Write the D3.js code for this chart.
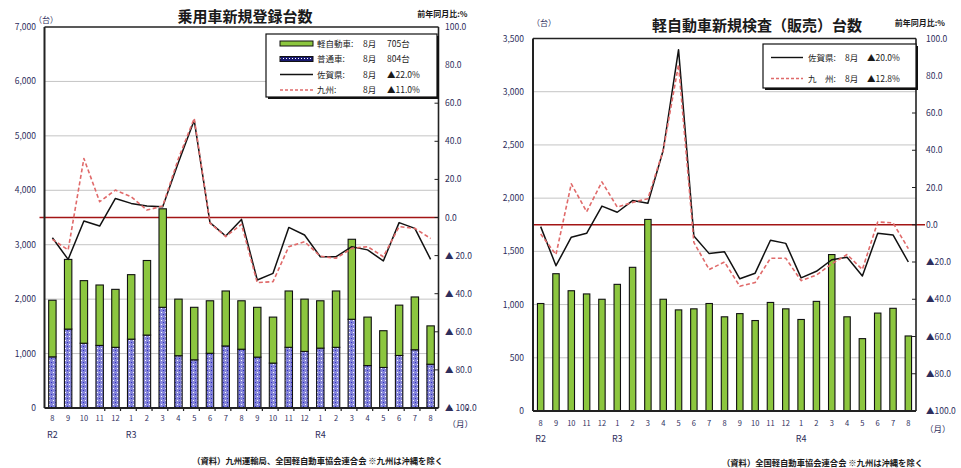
<!DOCTYPE html>
<html>
<head>
<meta charset="utf-8">
<script src="https://cdn.jsdelivr.net/npm/d3@7"></script>
<style>
  body { margin: 0; background: #fff; }
  svg { display: block; }
  text { font-family: "Noto Sans CJK JP", "Noto Sans", sans-serif; }
</style>
</head>
<body>
<svg id="chart" width="961" height="468"></svg>
<script>
// Months from R2.8 through R4.8
const months = ["8","9","10","11","12","1","2","3","4","5","6","7","8","9","10","11","12","1","2","3","4","5","6","7","8"];
const eras   = ["R2","","","","","R3","","","","","","","","","","","","R4","","","","","","",""];

// 乗用車新規登録台数 (Saga): stacked bars, units
const keiRegistered = [1040,1280,1150,1110,1065,1185,1370,1810,1040,965,965,1010,890,915,845,1035,960,870,1035,1470,890,675,925,970,705];
const futsuRegistered = [940,1450,1190,1150,1115,1265,1340,1850,960,885,1005,1140,1080,935,825,1115,1040,1100,1115,1630,780,745,965,1070,804];
// year-on-year change, %
const sagaPassengerYoY   = [-10.6,-22,-1.8,-4.5,10,7.4,6,5.7,29,51,-2.7,-9.7,-1,-32.8,-29.3,-5.2,-9.2,-20.6,-20.6,-15.3,-17,-22.8,-2.7,-5.7,-22.0];
const kyushuPassengerYoY = [-11.5,-17,31,8.3,14.4,10.9,3.9,6,31,52,-3,-10,-3.6,-34.2,-33.7,-15.3,-12.7,-20.3,-21.4,-16.2,-15.3,-20.6,-4.8,-5.7,-11.0];

// 軽自動車新規検査(販売)台数 (Saga), units
const keiInspected = [1010,1290,1130,1100,1050,1190,1350,1800,1050,950,960,1010,885,915,850,1020,960,860,1030,1470,885,680,920,965,705];
const sagaKeiYoY   = [-1,-22,-6.7,-4.6,10,6.7,13,11.5,40,94,-6,-15.5,-14.5,-29,-26,-8.3,-10,-28.5,-25,-18.8,-17.5,-27.5,-4.6,-5.5,-20.0];
const kyushuKeiYoY = [-5,-16,22,7,23,9.5,12,14,40,86,-9.5,-24,-20,-33,-31,-18,-18,-30,-27,-21,-16,-24,1.5,1,-12.8];

const leftLegend  = [
  ["軽自動車:", "8月", "705台"],
  ["普通車:",   "8月", "804台"],
  ["佐賀県:",   "8月", "▲22.0%"],
  ["九州:",     "8月", "▲11.0%"]
];
const rightLegend = [
  ["佐賀県:", "8月", "▲20.0%"],
  ["九　州:", "8月", "▲12.8%"]
];

const svg = d3.select("#chart");
const AXIS_TEXT = "#2e2e5c";
const GREEN = "#8cc63f";
const RED_DASH = "#e06a6a";

// dotted fill for 普通車
const defs = svg.append("defs");
const pat = defs.append("pattern").attr("id", "dots").attr("width", 4).attr("height", 4)
  .attr("patternUnits", "userSpaceOnUse");
pat.append("rect").attr("width", 4).attr("height", 4).attr("fill", "#8585d9");
pat.append("rect").attr("x", 1).attr("y", 0).attr("width", 1).attr("height", 1).attr("fill", "#ffffff");
pat.append("rect").attr("x", 3).attr("y", 2).attr("width", 1).attr("height", 1).attr("fill", "#2b2bc8");
const pat2 = defs.append("pattern").attr("id", "dotsDark").attr("width", 3).attr("height", 3)
  .attr("patternUnits", "userSpaceOnUse");
pat2.append("rect").attr("width", 3).attr("height", 3).attr("fill", "#1a1a70");
pat2.append("rect").attr("x", 1).attr("y", 1).attr("width", 1).attr("height", 1).attr("fill", "#ffffff");

function pctLabel(v, gap) {
  if (v < 0) return "▲" + gap + Math.abs(v).toFixed(1);
  return v.toFixed(1);
}

function drawChart(cfg) {
  const g = svg.append("g");
  const n = months.length;
  const x = d3.scaleBand().domain(d3.range(n)).range([cfg.x0, cfg.x1])
    .paddingInner(cfg.pad).paddingOuter(cfg.pad / 2);
  const step = x.step();
  const cx = i => x(i) + x.bandwidth() / 2;
  const yL = d3.scaleLinear().domain([0, cfg.leftMax]).range([cfg.yBottom, cfg.yTop]);
  const yR = d3.scaleLinear().domain([-100, 100]).range([cfg.yBottom, cfg.yTop]);

  // gridlines
  const leftTicks = d3.range(0, cfg.leftMax + 1, cfg.leftStep);
  g.selectAll(".grid").data(leftTicks.filter(t => t > 0 && t < cfg.leftMax)).join("line")
    .attr("x1", cfg.x0).attr("x2", cfg.x1)
    .attr("y1", d => yL(d)).attr("y2", d => yL(d))
    .attr("stroke", "#c4c4c4").attr("stroke-width", 1);

  // zero reference on the % axis
  g.append("line").attr("x1", cfg.x0 - cfg.zeroOverL).attr("x2", cfg.x1 + cfg.zeroOverR)
    .attr("y1", yR(0)).attr("y2", yR(0))
    .attr("stroke", "#a31515").attr("stroke-width", 1.6);

  // bars
  cfg.stacks.forEach(stack => {
    const bars = g.append("g");
    n && bars.selectAll("rect").data(d3.range(n)).join("rect")
      .attr("x", i => x(i))
      .attr("width", x.bandwidth())
      .attr("y", i => yL(stack.base(i) + stack.values[i]))
      .attr("height", i => yL(stack.base(i)) - yL(stack.base(i) + stack.values[i]))
      .attr("fill", stack.fill)
      .attr("stroke", "#111").attr("stroke-width", 1.1);
  });

  // lines
  cfg.lines.forEach(ln => {
    const path = d3.line().x((d, i) => cx(i)).y(d => yR(d));
    g.append("path").datum(ln.values).attr("d", path)
      .attr("fill", "none").attr("stroke", ln.stroke).attr("stroke-width", ln.width)
      .attr("stroke-dasharray", ln.dash || null).attr("stroke-linejoin", "round");
  });

  // frame
  g.append("line").attr("x1", cfg.x0).attr("x2", cfg.x1).attr("y1", cfg.yTop).attr("y2", cfg.yTop)
    .attr("stroke", "#222").attr("stroke-width", 1.3);
  g.append("line").attr("x1", cfg.x0).attr("x2", cfg.x0).attr("y1", cfg.yTop).attr("y2", cfg.yBottom)
    .attr("stroke", "#222").attr("stroke-width", 2);
  g.append("line").attr("x1", cfg.x1).attr("x2", cfg.x1).attr("y1", cfg.yTop).attr("y2", cfg.yBottom)
    .attr("stroke", "#222").attr("stroke-width", 1.6);
  g.append("line").attr("x1", cfg.x0).attr("x2", cfg.x1).attr("y1", cfg.yBottom).attr("y2", cfg.yBottom)
    .attr("stroke", "#222").attr("stroke-width", 2);

  // category boundary ticks
  g.selectAll(".ctick").data(d3.range(1, n)).join("line")
    .attr("x1", i => cfg.x0 + x.paddingOuter() * 0 + x(i) - step * cfg.pad / 2)
    .attr("x2", i => cfg.x0 + x.paddingOuter() * 0 + x(i) - step * cfg.pad / 2)
    .attr("y1", cfg.yBottom).attr("y2", cfg.yBottom + 3)
    .attr("stroke", "#222").attr("stroke-width", 1.2);

  // right axis inner ticks
  const rightTicks = d3.range(-100, 101, 20);
  g.selectAll(".rtick").data(rightTicks.filter(t => t > -100 && t < 100)).join("line")
    .attr("x1", cfg.x1 - 4).attr("x2", cfg.x1)
    .attr("y1", d => yR(d)).attr("y2", d => yR(d))
    .attr("stroke", "#222").attr("stroke-width", 1);

  // left axis labels
  g.selectAll(".ll").data(leftTicks).join("text")
    .attr("x", cfg.leftLabelX).attr("y", d => yL(d) + 3)
    .attr("text-anchor", "end").attr("font-size", 8.5).attr("fill", AXIS_TEXT)
    .text(d => d3.format(",")(d));

  // right axis labels
  g.selectAll(".rl").data(rightTicks).join("text")
    .attr("x", cfg.rightLabelX).attr("y", d => yR(d) + 3)
    .attr("font-size", 8.5).attr("fill", AXIS_TEXT)
    .text(d => pctLabel(d, cfg.triGap));

  // month labels
  g.selectAll(".ml").data(months).join("text")
    .attr("x", (d, i) => cx(i)).attr("y", cfg.monthY)
    .attr("text-anchor", "middle").attr("font-size", 7.5).attr("fill", AXIS_TEXT)
    .text(d => d);
  g.selectAll(".el").data(eras).join("text")
    .attr("x", (d, i) => cx(i)).attr("y", cfg.eraY)
    .attr("text-anchor", "middle").attr("font-size", 9).attr("fill", AXIS_TEXT)
    .text(d => d);
  g.append("text").attr("x", cfg.x1 + 9).attr("y", cfg.monthY + 6)
    .attr("font-size", 8.5).attr("fill", AXIS_TEXT).text("（月）");

  // headings
  g.append("text").attr("x", cfg.titleX).attr("y", cfg.titleY)
    .attr("text-anchor", "middle").attr("font-size", 15).attr("font-weight", "bold")
    .attr("fill", "#1a1a1a").text(cfg.title);
  g.append("text").attr("x", cfg.unitX).attr("y", cfg.unitY)
    .attr("text-anchor", "middle").attr("font-size", 8).attr("fill", AXIS_TEXT).text("（台）");
  g.append("text").attr("x", cfg.x1 + 29).attr("y", cfg.pctY)
    .attr("text-anchor", "end").attr("font-size", 8).attr("font-weight", "bold")
    .attr("fill", "#1a1a1a").text("前年同月比:%");
  g.append("text").attr("x", cfg.sourceX).attr("y", cfg.sourceY)
    .attr("text-anchor", "end").attr("font-size", 8.3).attr("font-weight", "bold")
    .attr("fill", "#1a1a1a").text(cfg.source);

  // legend
  const L = cfg.legend;
  const lg = g.append("g");
  lg.append("rect").attr("x", L.x + 2).attr("y", L.y + 2).attr("width", L.w).attr("height", L.h)
    .attr("fill", "#111");
  lg.append("rect").attr("x", L.x).attr("y", L.y).attr("width", L.w).attr("height", L.h)
    .attr("fill", "#fff").attr("stroke", "#111").attr("stroke-width", 1.2);
  L.rows.forEach((row, k) => {
    const ry = L.y + L.firstRow + k * L.rowStep;
    const sx = L.x + L.swatchX, sw = L.swatchW;
    const kind = L.kinds[k];
    if (kind === "kei") {
      lg.append("rect").attr("x", sx).attr("y", ry - 2.5).attr("width", sw).attr("height", 5)
        .attr("fill", GREEN).attr("stroke", "#111").attr("stroke-width", 1);
    } else if (kind === "futsu") {
      lg.append("rect").attr("x", sx).attr("y", ry - 2.5).attr("width", sw).attr("height", 5)
        .attr("fill", "url(#dotsDark)").attr("stroke", "#111").attr("stroke-width", 1);
    } else if (kind === "saga") {
      lg.append("line").attr("x1", sx).attr("x2", sx + sw).attr("y1", ry).attr("y2", ry)
        .attr("stroke", "#111").attr("stroke-width", 1.4);
    } else {
      lg.append("line").attr("x1", sx).attr("x2", sx + sw).attr("y1", ry).attr("y2", ry)
        .attr("stroke", RED_DASH).attr("stroke-width", 1.4).attr("stroke-dasharray", "3,2");
    }
    const cols = [L.nameX, L.monthX, L.valueX];
    row.forEach((t, j) => {
      lg.append("text").attr("x", L.x + cols[j]).attr("y", ry + 3)
        .attr("font-size", 8.5).attr("fill", kind === "kyushu" && j === 0 ? "#1a1a1a" : "#1a1a1a")
        .text(t);
    });
  });
}

// 乗用車新規登録台数
drawChart({
  x0: 44.5, x1: 438.5, yTop: 27, yBottom: 408, leftMax: 7000, leftStep: 1000, pad: 0.53,
  zeroOverL: 5, zeroOverR: 0,
  stacks: [
    { values: futsuRegistered, base: () => 0, fill: "url(#dots)" },
    { values: keiRegistered, base: i => futsuRegistered[i], fill: GREEN }
  ],
  lines: [
    { values: sagaPassengerYoY, stroke: "#111", width: 1.5 },
    { values: kyushuPassengerYoY, stroke: RED_DASH, width: 1.6, dash: "4,2.5" }
  ],
  leftLabelX: 36, rightLabelX: 445, triGap: " ",
  monthY: 421, eraY: 438,
  title: "乗用車新規登録台数", titleX: 245, titleY: 21.5,
  unitX: 46, unitY: 23, pctY: 16.5,
  source: "（資料）九州運輸局、全国軽自動車協会連合会 ※九州は沖縄を除く", sourceX: 443, sourceY: 464,
  legend: {
    x: 266, y: 34, w: 171, h: 63, firstRow: 9.5, rowStep: 15.5,
    swatchX: 14, swatchW: 33, nameX: 51, monthX: 97, valueX: 121,
    rows: leftLegend, kinds: ["kei", "futsu", "saga", "kyushu"]
  }
});

// 軽自動車新規検査(販売)台数
drawChart({
  x0: 533, x1: 916, yTop: 38.5, yBottom: 411, leftMax: 3500, leftStep: 500, pad: 0.58,
  zeroOverL: 0, zeroOverR: 9,
  stacks: [
    { values: keiInspected, base: () => 0, fill: GREEN }
  ],
  lines: [
    { values: sagaKeiYoY, stroke: "#111", width: 1.5 },
    { values: kyushuKeiYoY, stroke: RED_DASH, width: 1.6, dash: "4,2.5" }
  ],
  leftLabelX: 524, rightLabelX: 926, triGap: "",
  monthY: 426, eraY: 442,
  title: "軽自動車新規検査（販売）台数", titleX: 757, titleY: 30.5,
  unitX: 544, unitY: 26, pctY: 26,
  source: "（資料）全国軽自動車協会連合会 ※九州は沖縄を除く", sourceX: 923, sourceY: 466,
  legend: {
    x: 763, y: 44, w: 153, h: 44, firstRow: 13.5, rowStep: 21,
    swatchX: 8, swatchW: 32, nameX: 45, monthX: 82, valueX: 104,
    rows: rightLegend, kinds: ["saga", "kyushu"]
  }
});
</script>
</body>
</html>
